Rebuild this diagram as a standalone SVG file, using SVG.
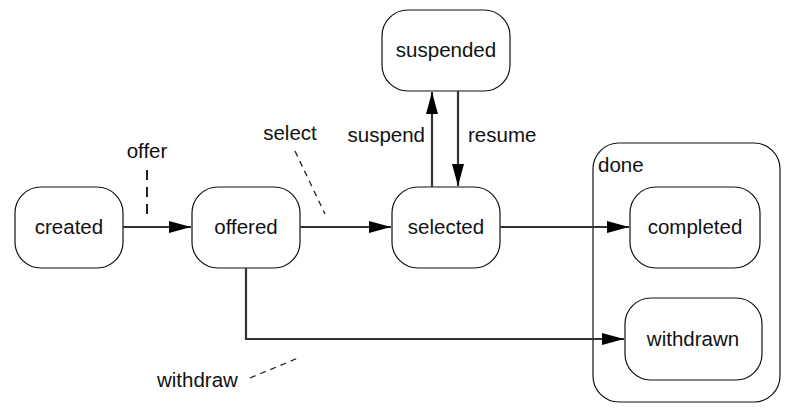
<svg xmlns="http://www.w3.org/2000/svg" width="790" height="414" viewBox="0 0 790 414">
<style>
  .node rect { fill: #ffffff; stroke: #111111; stroke-width: 1.2; }
  .lbl { font-family: "Liberation Sans", Arial, sans-serif; font-size: 20.5px; fill: #111111; }
  .mid { text-anchor: middle; }
  .conn { fill: none; stroke: #333333; stroke-width: 2.2; }
  .dash1 { fill: none; stroke: #222222; stroke-width: 2; stroke-dasharray: 10 7; }
  .dash2 { fill: none; stroke: #222222; stroke-width: 1.3; stroke-dasharray: 6 5; }
</style>
<defs>
  <marker id="arr" markerUnits="userSpaceOnUse" markerWidth="24" markerHeight="14" refX="22" refY="6" orient="auto">
    <path d="M0,0 L22,6 L0,12 z" fill="#000000"/>
  </marker>
</defs>
<rect width="790" height="414" fill="#ffffff"/>

<g id="done">
  <rect x="593" y="143" width="187" height="259" rx="26" ry="26" fill="#ffffff" stroke="#111111" stroke-width="1.2"/>
  <text class="lbl" x="598" y="172">done</text>
</g>

<g id="created" class="node">
  <rect x="15" y="187" width="108" height="81" rx="26" ry="26"/>
  <text class="lbl mid" x="69" y="234">created</text>
</g>
<g id="offered" class="node">
  <rect x="192" y="187" width="108" height="81" rx="26" ry="26"/>
  <text class="lbl mid" x="246" y="234">offered</text>
</g>
<g id="selected" class="node">
  <rect x="392" y="187" width="108" height="81" rx="26" ry="26"/>
  <text class="lbl mid" x="446" y="234">selected</text>
</g>
<g id="suspended" class="node">
  <rect x="382" y="10" width="128" height="81" rx="26" ry="26"/>
  <text class="lbl mid" x="446" y="57">suspended</text>
</g>
<g id="completed" class="node">
  <rect x="630" y="187" width="130" height="81" rx="26" ry="26"/>
  <text class="lbl mid" x="695" y="234">completed</text>
</g>
<g id="withdrawn" class="node">
  <rect x="625" y="298" width="137" height="82" rx="26" ry="26"/>
  <text class="lbl mid" x="693" y="346">withdrawn</text>
</g>

<g id="connectors">
  <line class="conn" x1="123" y1="227" x2="191" y2="227" marker-end="url(#arr)"/>
  <line class="conn" x1="300" y1="227" x2="391" y2="227" marker-end="url(#arr)"/>
  <line class="conn" x1="500" y1="227" x2="629" y2="227" marker-end="url(#arr)"/>
  <line class="conn" x1="432" y1="187" x2="432" y2="92" marker-end="url(#arr)"/>
  <line class="conn" x1="458" y1="91" x2="458" y2="186" marker-end="url(#arr)"/>
  <polyline class="conn" points="246,268 246,339 624,339" marker-end="url(#arr)"/>

  <line class="dash1" x1="147" y1="170" x2="147" y2="218"/>
  <line class="dash2" x1="295" y1="151" x2="325" y2="214"/>
  <line class="dash2" x1="250" y1="378" x2="298" y2="358"/>

  <text class="lbl mid" x="147" y="158">offer</text>
  <text class="lbl mid" x="290" y="140">select</text>
  <text class="lbl" x="425" y="142" text-anchor="end">suspend</text>
  <text class="lbl" x="468" y="142">resume</text>
  <text class="lbl" x="157" y="387">withdraw</text>
</g>
</svg>
